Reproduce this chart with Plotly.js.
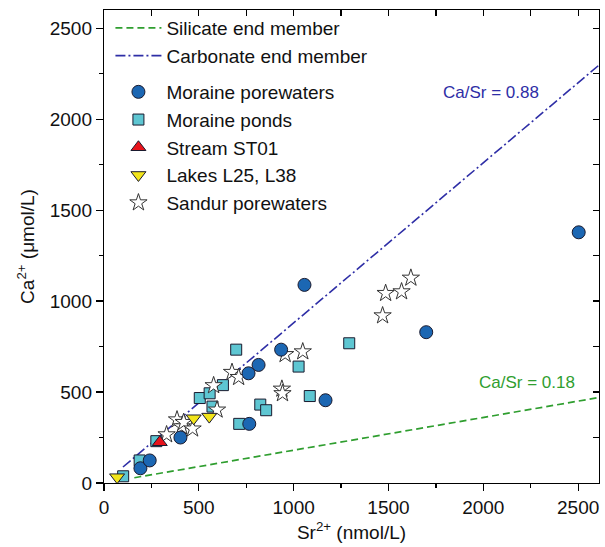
<!DOCTYPE html>
<html>
<head>
<meta charset="utf-8">
<script src="https://cdn.plot.ly/plotly-3.0.1.min.js"></script>
<style>html,body{margin:0;padding:0;background:#fff;}#chart{width:605px;height:547px;}</style>
</head>
<body>
<div id="chart"></div>
<script>
// End-member lines (Sr in nmol/L, Ca in µmol/L)
const silicateX = [160, 2610];
const silicateY = [29, 470];
const carbonateX = [100, 2610];
const carbonateY = [88, 2297];

// Moraine porewaters
const porewaterSr = [192, 241, 403, 766, 762, 815, 934, 1057, 1168, 1699, 2503];
const porewaterCa = [81, 124, 250, 325, 603, 649, 733, 1089, 455, 829, 1378];

// Moraine ponds
const pondSr = [101, 188, 276, 505, 557, 572, 627, 697, 713, 824, 855, 1026, 1085, 1293];
const pondCa = [37, 124, 230, 467, 493, 420, 538, 733, 325, 431, 400, 640, 478, 768];

// Stream ST01
const streamSr = [294];
const streamCa = [224];

// Lakes L25, L38
const lakeSr = [69, 473, 555];
const lakeCa = [32, 356, 365];

// Sandur porewaters
const sandurSr = [330, 385, 410, 420, 467, 578, 596, 675, 710, 938, 941, 955, 1048, 1469, 1485, 1569, 1618];
const sandurCa = [266, 348, 310, 334, 298, 536, 402, 609, 581, 517, 492, 707, 722, 920, 1043, 1052, 1127];

const tickVals = [0, 500, 1000, 1500, 2000, 2500];
const tickText = ['0', '500', '1000', '1500', '2000', '2500'];

const FONT = 'Arial, "Liberation Sans", Helvetica, sans-serif';
const outline = {color: '#1a1a2e', width: 1};

const traces = [
  {x: silicateX, y: silicateY, mode: 'lines', name: 'Silicate end member', legend: 'legend',
   line: {color: '#2f9e2f', width: 1.7, dash: '7px,4px'}, hoverinfo: 'skip'},
  {x: carbonateX, y: carbonateY, mode: 'lines', name: 'Carbonate end member', legend: 'legend',
   line: {color: '#2e2ea6', width: 1.6, dash: '10px,3px,2px,3px'}, hoverinfo: 'skip'},
  {x: pondSr, y: pondCa, mode: 'markers', name: 'Moraine ponds', legend: 'legend2', legendrank: 2,
   marker: {symbol: 'square', size: 11, color: '#5ec6d2', line: outline}},
  {x: sandurSr, y: sandurCa, mode: 'markers', name: 'Sandur porewaters', legend: 'legend2', legendrank: 5,
   marker: {symbol: 'star', size: 13, color: '#ffffff', line: {color: '#333333', width: 1}}},
  {x: porewaterSr, y: porewaterCa, mode: 'markers', name: 'Moraine porewaters', legend: 'legend2', legendrank: 1,
   marker: {symbol: 'circle', size: 13, color: '#1c67b3', line: outline}},
  {x: lakeSr, y: lakeCa, mode: 'markers', name: 'Lakes L25, L38', legend: 'legend2', legendrank: 4,
   marker: {symbol: 'triangle-down', size: 13, color: '#f2e51a', line: outline}},
  {x: streamSr, y: streamCa, mode: 'markers', name: 'Stream ST01', legend: 'legend2', legendrank: 3,
   marker: {symbol: 'triangle-up', size: 13, color: '#e8141c', line: outline}},
  {x: [], y: [], xaxis: 'x2', yaxis: 'y2', showlegend: false, hoverinfo: 'skip', mode: 'markers'}
];

const baseAxis = {
  showgrid: false, zeroline: false, showline: true, linecolor: '#000', linewidth: 1.2,
  tickcolor: '#000', tickwidth: 1.2,
  tickfont: {family: FONT, size: 19, color: '#111'}
};

const legendBase = {xanchor: 'left', yanchor: 'top', bgcolor: 'rgba(0,0,0,0)',
  itemwidth: 46, traceorder: 'normal', font: {family: FONT, size: 19, color: '#111'}};

const layout = {
  width: 605, height: 547,
  margin: {l: 104, r: 6, t: 10, b: 64},
  paper_bgcolor: '#fff', plot_bgcolor: '#fff',
  font: {family: FONT, size: 19, color: '#111'},
  showlegend: true,
  legend: Object.assign({}, legendBase, {x: 0.013, y: 1.002}),
  legend2: Object.assign({}, legendBase, {x: 0.013, y: 0.8668}),
  xaxis: Object.assign({}, baseAxis, {
    range: [0, 2610], tickmode: 'array', tickvals: tickVals, ticktext: tickText,
    ticks: 'outside', ticklen: 7,
    minor: {dtick: 250, tick0: 0, ticks: 'outside', ticklen: 4, tickcolor: '#000', tickwidth: 1.2},
    title: {text: 'Sr<sup>2+</sup> (nmol/L)', font: {family: FONT, size: 19, color: '#111'}, standoff: 8}
  }),
  yaxis: Object.assign({}, baseAxis, {
    range: [0, 2600], tickmode: 'array', tickvals: tickVals, ticktext: tickText,
    ticks: 'outside', ticklen: 7,
    minor: {dtick: 250, tick0: 0, ticks: 'outside', ticklen: 4, tickcolor: '#000', tickwidth: 1.2},
    title: {text: 'Ca<sup>2+</sup> (\u03bcmol/L)', font: {family: FONT, size: 19, color: '#111'}, standoff: 10}
  }),
  xaxis2: Object.assign({}, baseAxis, {
    overlaying: 'x', side: 'top', anchor: 'y2', range: [0, 2610],
    tickmode: 'array', tickvals: tickVals, ticks: 'inside', ticklen: 6, showticklabels: false,
    minor: {dtick: 250, tick0: 0, ticks: 'inside', ticklen: 6, tickcolor: '#000', tickwidth: 1.2}
  }),
  yaxis2: Object.assign({}, baseAxis, {
    overlaying: 'y', side: 'right', anchor: 'x2', range: [0, 2600],
    tickmode: 'array', tickvals: tickVals, ticks: 'inside', ticklen: 6, showticklabels: false,
    minor: {dtick: 250, tick0: 0, ticks: 'inside', ticklen: 6, tickcolor: '#000', tickwidth: 1.2}
  }),
  annotations: [
    {x: 2040, y: 2145, xref: 'x', yref: 'y', text: 'Ca/Sr = 0.88', showarrow: false,
     font: {family: FONT, size: 17, color: '#2e2ea6'}},
    {x: 2230, y: 555, xref: 'x', yref: 'y', text: 'Ca/Sr = 0.18', showarrow: false,
     font: {family: FONT, size: 17, color: '#2f9e2f'}}
  ]
};

Plotly.newPlot('chart', traces, layout, {displayModeBar: false, staticPlot: true});
</script>
</body>
</html>
